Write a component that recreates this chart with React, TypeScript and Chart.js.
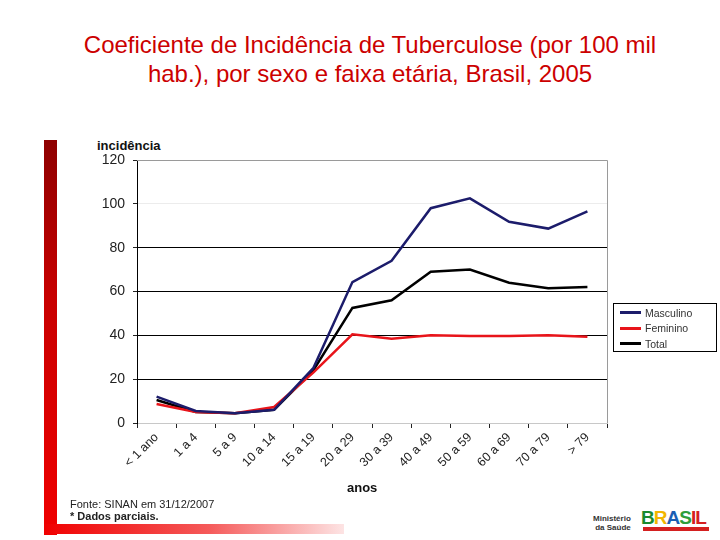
import { useEffect, useRef } from "react";
import { Chart, registerables } from "chart.js";

Chart.register(...registerables);

const faixas = [
  "< 1 ano", "1 a 4", "5 a 9", "10 a 14", "15 a 19", "20 a 29",
  "30 a 39", "40 a 49", "50 a 59", "60 a 69", "70 a 79", "> 79",
];

const masculino = [12, 5.5, 4.5, 6, 25, 64.3, 74, 98, 102.5, 91.8, 88.7, 96.6];
const feminino = [8.7, 5, 4.5, 7.3, 23, 40.5, 38.5, 40, 39.7, 39.7, 40, 39.3];
const total = [10.5, 5, 4.5, 6, 24, 52.5, 56, 69, 70, 64, 61.5, 62];

const yTicks = [0, 20, 40, 60, 80, 100, 120];

const series = [
  { name: "Masculino", data: masculino, color: "#1c1c6b" },
  { name: "Feminino", data: feminino, color: "#e8141a" },
  { name: "Total", data: total, color: "#000000" },
];

const FONT = "'Liberation Sans', Arial, sans-serif";

// draws the grey top/right frame of the plot
const framePlugin = {
  id: "frame",
  beforeDatasetsDraw(chart: any) {
    const { ctx, chartArea } = chart;
    ctx.save();
    ctx.strokeStyle = "#9a9a9a";
    ctx.lineWidth = 1;
    ctx.beginPath();
    ctx.moveTo(chartArea.left, chartArea.top + 0.5);
    ctx.lineTo(chartArea.right + 0.5, chartArea.top + 0.5);
    ctx.lineTo(chartArea.right + 0.5, chartArea.bottom);
    ctx.stroke();
    ctx.restore();
  },
};

function IncidenceChart() {
  const canvasRef = useRef<HTMLCanvasElement>(null);

  useEffect(() => {
    if (!canvasRef.current) return;
    const chart = new Chart(canvasRef.current, {
      type: "line",
      data: {
        labels: faixas,
        datasets: series.map((s) => ({
          label: s.name,
          data: s.data,
          borderColor: s.color,
          backgroundColor: s.color,
          borderWidth: 2.5,
          pointRadius: 0,
          tension: 0,
        })),
      },
      options: {
        animation: false,
        responsive: false,
        layout: { padding: { top: 30, right: 113, left: 0, bottom: 0 } },
        scales: {
          x: {
            offset: true,
            grid: {
              offset: true,
              drawOnChartArea: false,
              tickLength: 5,
              color: "#222",
            },
            border: { color: "#c8c8c8" },
            ticks: {
              minRotation: 45,
              maxRotation: 45,
              color: "#222",
              font: { family: FONT, size: 12.5 },
              padding: 2,
            },
            afterFit: (scale: any) => {
              scale.height = 77;
            },
          },
          y: {
            min: 0,
            max: 120,
            afterBuildTicks: (scale: any) => {
              scale.ticks = yTicks.map((v) => ({ value: v }));
            },
            grid: {
              tickLength: 4,
              color: (ctx: any) => {
                const v = ctx.tick?.value;
                if (v === 0) return "#c8c8c8";
                if (v === 100) return "#ececec";
                if (v === 120) return "#9a9a9a";
                return "#000";
              },
              tickColor: "#222",
            },
            border: { color: "#000", width: 1 },
            ticks: {
              color: "#222",
              font: { family: FONT, size: 14 },
              padding: 8,
            },
            afterFit: (scale: any) => {
              scale.width = 77;
            },
          },
        },
        plugins: {
          legend: { display: false },
          tooltip: { enabled: false },
        },
      },
      plugins: [framePlugin],
    });
    return () => chart.destroy();
  }, []);

  return (
    <canvas
      ref={canvasRef}
      width={660}
      height={370}
      style={{ position: "absolute", left: 60, top: 130, width: 660, height: 370 }}
    />
  );
}

export default function App() {
  return (
    <div
      style={{
        position: "absolute",
        left: 0,
        top: 0,
        width: 720,
        height: 540,
        background: "#fff",
        fontFamily: FONT,
        overflow: "hidden",
      }}
    >
      {/* Title */}
      <div
        style={{
          position: "absolute",
          left: 20,
          top: 30,
          width: 700,
          textAlign: "center",
          color: "#cc0000",
          fontSize: 24,
          lineHeight: "29px",
        }}
      >
        Coeficiente de Incidência de Tuberculose (por 100 mil
        <br />
        hab.), por sexo e faixa etária, Brasil, 2005
      </div>

      {/* Red frame */}
      <div
        style={{
          position: "absolute",
          left: 44,
          top: 140,
          width: 13,
          height: 395,
          background: "linear-gradient(to bottom, #8e0000, #c80000 40%, #f00000)",
        }}
      />
      <div
        style={{
          position: "absolute",
          left: 44,
          top: 524,
          width: 300,
          height: 10,
          background: "linear-gradient(to right, #f00000, #f55a5a 55%, #fde4e4)",
        }}
      />

      <div
        style={{
          position: "absolute",
          left: 97,
          top: 138,
          fontSize: 13,
          fontWeight: 700,
          color: "#111",
        }}
      >
        incidência
      </div>

      <IncidenceChart />

      <div
        style={{
          position: "absolute",
          left: 347,
          top: 480,
          fontSize: 13,
          fontWeight: 700,
          color: "#111",
        }}
      >
        anos
      </div>

      {/* Legend */}
      <div
        style={{
          position: "absolute",
          left: 613,
          top: 303,
          width: 104,
          height: 49,
          border: "1px solid #000",
          boxSizing: "border-box",
          paddingTop: 1,
        }}
      >
        {series.map((s) => (
          <div
            key={s.name}
            style={{ display: "flex", alignItems: "center", height: 15.5, paddingLeft: 6 }}
          >
            <span
              style={{
                display: "inline-block",
                width: 21,
                height: 3,
                background: s.color,
                marginRight: 4,
              }}
            />
            <span style={{ fontSize: 10.5, color: "#333" }}>{s.name}</span>
          </div>
        ))}
      </div>

      {/* Footnotes */}
      <div
        style={{
          position: "absolute",
          left: 70,
          top: 498,
          fontSize: 11,
          lineHeight: "12px",
          color: "#222",
        }}
      >
        Fonte: SINAN em 31/12/2007
        <br />
        <span style={{ fontWeight: 700 }}>* Dados parciais.</span>
      </div>

      {/* Logo */}
      <div
        style={{
          position: "absolute",
          left: 593,
          top: 514,
          fontSize: 8,
          lineHeight: "9px",
          fontWeight: 700,
          color: "#333",
          textAlign: "right",
        }}
      >
        Ministério
        <br />
        da Saúde
      </div>
      <div
        style={{
          position: "absolute",
          left: 641,
          top: 508,
          fontSize: 19,
          fontWeight: 900,
          letterSpacing: -1,
          lineHeight: "19px",
        }}
      >
        <span style={{ color: "#1a8a2e" }}>B</span>
        <span style={{ color: "#f2b600" }}>R</span>
        <span style={{ color: "#1a5fb4" }}>A</span>
        <span style={{ color: "#2e9e3a" }}>S</span>
        <span style={{ color: "#d42020" }}>I</span>
        <span style={{ color: "#d42020" }}>L</span>
      </div>
      <div
        style={{
          position: "absolute",
          left: 643,
          top: 527,
          width: 66,
          height: 4,
          background: "#d42020",
        }}
      />
    </div>
  );
}
